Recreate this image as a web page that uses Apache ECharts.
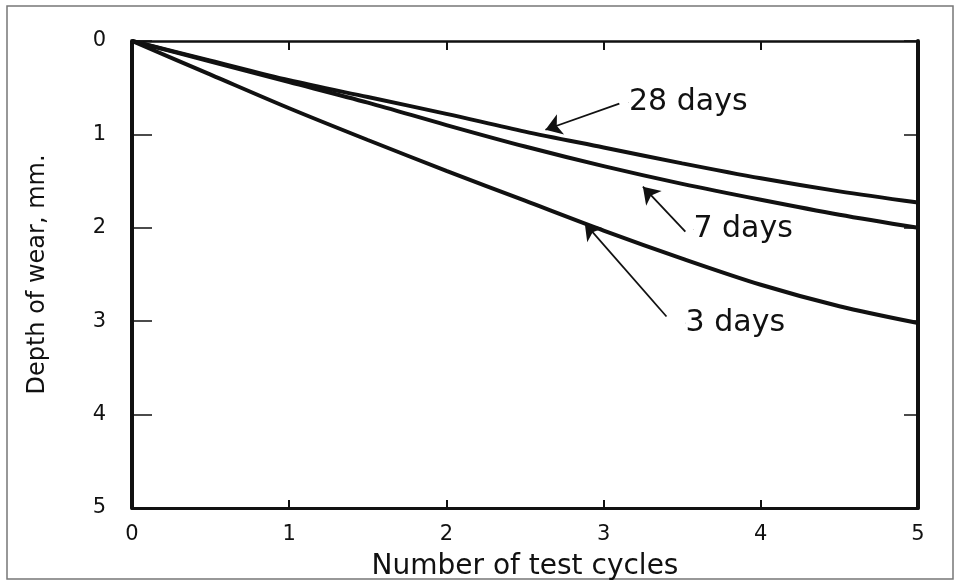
<!DOCTYPE html>
<html>
<head>
<meta charset="utf-8">
<script src="https://cdn.jsdelivr.net/npm/echarts@6/dist/echarts.min.js"></script>
<style>
  html, body { margin: 0; padding: 0; background: #fff; }
  #chart { width: 959px; height: 582px; }
</style>
</head>
<body>
<div id="chart"></div>
<script>
// Number of test cycles (x) against depth of wear in mm (y, increasing downward)
const cycles = [0, 0.5, 1, 1.5, 2, 2.5, 3, 3.5, 4, 4.5, 5];
const wear3Days  = [0, 0.36, 0.72, 1.06, 1.39, 1.71, 2.03, 2.33, 2.61, 2.84, 3.02];
const wear7Days  = [0, 0.22, 0.44, 0.66, 0.90, 1.13, 1.34, 1.53, 1.70, 1.86, 2.00];
const wear28Days = [0, 0.21, 0.42, 0.60, 0.78, 0.97, 1.14, 1.31, 1.47, 1.61, 1.73];

const xTicks = ['0', '1', '2', '3', '4', '5'];
const yTicks = ['0', '1', '2', '3', '4', '5'];

// Curve labels: text, label anchor [x, y], arrow tail [x, y], arrow tip [x, y]
const curveNotes = [
  { text: '28 days', at: [3.16, 0.66], tail: [3.10, 0.67], tip: [2.63, 0.95] },
  { text: '7 days',  at: [3.57, 2.02], tail: [3.52, 2.04], tip: [3.25, 1.56] },
  { text: '3 days',  at: [3.52, 3.02], tail: [3.40, 2.95], tip: [2.88, 1.95] }
];

const ink = '#111';
const font = 'DejaVu Sans';

function pairs(ys) { return cycles.map((x, i) => [x, ys[i]]); }

function curve(name, ys) {
  return {
    name: name,
    type: 'line',
    data: pairs(ys),
    smooth: 0.3,
    symbol: 'none',
    lineStyle: { color: ink, width: 4 },
    z: 3
  };
}

const chart = echarts.init(document.getElementById('chart'), null, { renderer: 'canvas' });

const option = {
  animation: false,
  backgroundColor: '#fff',
  grid: { left: 132, right: 41, top: 41, bottom: 74, outerBoundsMode: 'none', containLabel: false },
  graphic: [{
    type: 'rect',
    shape: { x: 7, y: 6, width: 946, height: 573 },
    style: { fill: 'none', stroke: '#777', lineWidth: 1.5 },
    silent: true
  }],
  xAxis: [{
    type: 'value', min: 0, max: 5, interval: 1, position: 'bottom',
    name: 'Number of test cycles', nameLocation: 'middle', nameGap: 45,
    nameTextStyle: { fontFamily: font, fontSize: 28, color: ink },
    axisLine: { onZero: false, lineStyle: { color: ink, width: 3 } },
    axisTick: { inside: true, length: 8, lineStyle: { color: ink, width: 2 } },
    axisLabel: {
      margin: 16, fontFamily: font, fontSize: 21, color: ink,
      formatter: v => xTicks[Math.round(v)]
    },
    splitLine: { show: false }
  }, {
    type: 'value', min: 0, max: 5, interval: 1, position: 'top',
    axisLine: { onZero: false, lineStyle: { color: ink, width: 2.5 } },
    axisTick: { inside: true, length: 9, lineStyle: { color: ink, width: 2 } },
    axisLabel: { show: false },
    splitLine: { show: false }
  }],
  yAxis: [{
    type: 'value', min: 0, max: 5, interval: 1, inverse: true, position: 'left',
    name: 'Depth of wear, mm.', nameLocation: 'middle', nameGap: 82, nameRotate: 90,
    nameTextStyle: { fontFamily: font, fontSize: 24, color: ink },
    axisLine: { onZero: false, lineStyle: { color: ink, width: 4 } },
    axisTick: { inside: true, length: 20, lineStyle: { color: ink, width: 1.5 } },
    axisLabel: {
      margin: 26, fontFamily: font, fontSize: 21, color: ink,
      formatter: v => yTicks[Math.round(v)]
    },
    splitLine: { show: false }
  }, {
    type: 'value', min: 0, max: 5, interval: 1, inverse: true, position: 'right',
    axisLine: { onZero: false, lineStyle: { color: ink, width: 4 } },
    axisTick: { inside: true, length: 14, lineStyle: { color: ink, width: 1.5 } },
    axisLabel: { show: false },
    splitLine: { show: false }
  }],
  series: [
    curve('28 days', wear28Days),
    curve('7 days', wear7Days),
    curve('3 days', wear3Days),
    {
      name: 'notes',
      type: 'scatter',
      symbolSize: 0.5,
      itemStyle: { color: ink, opacity: 1 },
      data: curveNotes.map(n => ({ value: n.at, name: n.text })),
      label: {
        show: true, position: 'right', distance: 0,
        formatter: p => p.name,
        fontFamily: font, fontSize: 30, color: ink, opacity: 1
      },
      emphasis: { disabled: true },
      markLine: {
        silent: true,
        symbol: ['none', 'arrow'],
        symbolSize: 16,
        label: { show: false },
        lineStyle: { color: ink, width: 1.8, type: 'solid', opacity: 1 },
        data: curveNotes.map(n => [{ coord: n.tail }, { coord: n.tip }])
      },
      z: 4
    }
  ]
};

chart.setOption(option);
</script>
</body>
</html>
